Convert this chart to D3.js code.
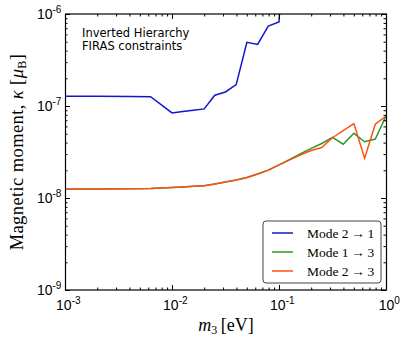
<!DOCTYPE html>
<meta charset="utf-8">
<style>
body { margin: 0; background: #fff; }
svg { font-family: "DejaVu Sans", sans-serif; }
.axis path.domain { display: none; }
.axis line { stroke: #000; stroke-width: 1; }
.tick text { font-size: 14px; fill: #000; }
.serif { font-family: "Liberation Serif", "DejaVu Serif", serif; }
</style>
<body>
<script src="https://d3js.org/d3.v7.min.js"></script>
<script>

// m3 grid [eV]
var m3 = [0.001, 0.002, 0.00398, 0.00631, 0.01, 0.0126, 0.0158, 0.02, 0.0251, 0.0316,
          0.0398, 0.0501, 0.0631, 0.0794, 0.1, 0.126, 0.158, 0.2, 0.251, 0.316,
          0.398, 0.501, 0.631, 0.794, 1.0];

// kappa limits [mu_B]
var mode21 = [1.28e-7, 1.28e-7, 1.27e-7, 1.26e-7, 8.4e-8, 8.7e-8, 9.0e-8, 9.3e-8, 1.31e-7, 1.42e-7,
              1.71e-7, 4.92e-7, 4.67e-7, 7.4e-7, 8.2e-7, 1e-4, null, null, null, null,
              null, null, null, null, null];
var mode13 = [1.25e-8, 1.25e-8, 1.26e-8, 1.27e-8, 1.30e-8, 1.32e-8, 1.34e-8, 1.36e-8, 1.42e-8, 1.49e-8,
              1.57e-8, 1.67e-8, 1.82e-8, 2.01e-8, 2.29e-8, 2.62e-8, 3.01e-8, 3.46e-8, 3.91e-8, 4.57e-8,
              3.84e-8, 5.05e-8, 4.09e-8, 4.37e-8, 7.78e-8];
var mode23 = [1.25e-8, 1.25e-8, 1.26e-8, 1.27e-8, 1.30e-8, 1.32e-8, 1.34e-8, 1.36e-8, 1.42e-8, 1.49e-8,
              1.57e-8, 1.67e-8, 1.82e-8, 2.01e-8, 2.29e-8, 2.60e-8, 2.92e-8, 3.28e-8, 3.54e-8, 4.52e-8,
              5.40e-8, 6.43e-8, 2.70e-8, 6.33e-8, 7.78e-8];

var xMajor = [1e-3, 1e-2, 1e-1, 1];
var yMajor = [1e-9, 1e-8, 1e-7, 1e-6];

var series = [
  {name: ["Mode 2", "1"], values: mode21, color: "#1414d2"},
  {name: ["Mode 1", "3"], values: mode13, color: "#2e962e"},
  {name: ["Mode 2", "3"], values: mode23, color: "#ff5014"}
];

var margin = {top: 14, right: 21, bottom: 51, left: 65};
var width = 407 - margin.left - margin.right;
var height = 341 - margin.top - margin.bottom;

var x = d3.scaleLog().domain([1e-3, 1]).range([0, width]);
var y = d3.scaleLog().domain([1e-9, 1e-6]).range([height, 0]);

var minors = function(majors) {
  var out = [];
  majors.slice(0, -1).forEach(function(m) {
    for (var k = 2; k < 10; k++) out.push(m * k);
  });
  return out;
};

var svg = d3.select("body").append("svg")
  .attr("width", 407)
  .attr("height", 341);

var g = svg.append("g")
  .attr("transform", "translate(" + margin.left + "," + margin.top + ")");

g.append("clipPath").attr("id", "clip")
  .append("rect").attr("width", width).attr("height", height);

// lines
var line = d3.line()
  .defined(function(d) { return d[1] != null; })
  .x(function(d) { return x(d[0]); })
  .y(function(d) { return y(d[1]); });

series.forEach(function(s) {
  g.append("path")
    .datum(m3.map(function(v, i) { return [v, s.values[i]]; }))
    .attr("clip-path", "url(#clip)")
    .attr("fill", "none")
    .attr("stroke", s.color)
    .attr("stroke-width", 1.5)
    .attr("d", line);
});

// ticks, inward on all sides
function supLabels(sel) {
  sel.selectAll(".tick text").each(function(d) {
    var t = d3.select(this);
    var e = Math.round(Math.log10(d));
    t.text("10");
    t.append("tspan").attr("dy", "-0.55em").attr("font-size", "10px").text(e);
  });
}

var gx = g.append("g").attr("class", "axis")
  .attr("transform", "translate(0," + height + ")")
  .call(d3.axisBottom(x).tickValues(xMajor).tickSize(-5).tickPadding(10));
gx.selectAll(".tick text").attr("dx", "0.2em");
supLabels(gx);
g.append("g").attr("class", "axis")
  .attr("transform", "translate(0," + height + ")")
  .call(d3.axisBottom(x).tickValues(minors(xMajor)).tickSize(-2.5).tickFormat(""));
g.append("g").attr("class", "axis")
  .call(d3.axisTop(x).tickValues(xMajor).tickSize(-5).tickFormat(""));
g.append("g").attr("class", "axis")
  .call(d3.axisTop(x).tickValues(minors(xMajor)).tickSize(-2.5).tickFormat(""));

var gy = g.append("g").attr("class", "axis")
  .call(d3.axisLeft(y).tickValues(yMajor).tickSize(-5).tickPadding(12));
gy.selectAll(".tick text").attr("dx", "0.6em").attr("text-anchor", "end");
supLabels(gy);
g.append("g").attr("class", "axis")
  .call(d3.axisLeft(y).tickValues(minors(yMajor)).tickSize(-2.5).tickFormat(""));
g.append("g").attr("class", "axis")
  .attr("transform", "translate(" + width + ",0)")
  .call(d3.axisRight(y).tickValues(yMajor).tickSize(-5).tickFormat(""));
g.append("g").attr("class", "axis")
  .attr("transform", "translate(" + width + ",0)")
  .call(d3.axisRight(y).tickValues(minors(yMajor)).tickSize(-2.5).tickFormat(""));

g.append("rect")
  .attr("x", 0.5).attr("y", 0)
  .attr("width", width).attr("height", height)
  .attr("fill", "none").attr("stroke", "#000").attr("stroke-width", 1.2);

// annotation
g.append("text").attr("x", 17).attr("y", 23).attr("font-size", "11.5px").text("Inverted Hierarchy");
g.append("text").attr("x", 17).attr("y", 36).attr("font-size", "11.5px").text("FIRAS constraints");

// axis labels
var xl = svg.append("text").attr("class", "serif")
  .attr("x", 226).attr("y", 331).attr("text-anchor", "middle").attr("font-size", "18px");
xl.append("tspan").attr("font-style", "italic").text("m");
xl.append("tspan").attr("dy", "3").attr("font-size", "12px").text("3");
xl.append("tspan").attr("dy", "-3").text("\u2009[eV]");

var yl = svg.append("text").attr("class", "serif")
  .attr("transform", "translate(23,152) rotate(-90)")
  .attr("text-anchor", "middle").attr("font-size", "18.5px")
  .attr("letter-spacing", "0.4px");
yl.append("tspan").text("Magnetic moment, ");
yl.append("tspan").attr("font-style", "italic").text("\u03ba");
yl.append("tspan").text(" [");
yl.append("tspan").attr("font-style", "italic").text("\u03bc");
yl.append("tspan").attr("dy", "3").attr("font-size", "12px").text("B");
yl.append("tspan").attr("dy", "-3").text("]");

// legend
var lg = g.append("g").attr("transform", "translate(" + (width - 123) + "," + (height - 69) + ")");
lg.append("rect")
  .attr("width", 118).attr("height", 62).attr("rx", 3)
  .attr("fill", "#fff").attr("stroke", "#444").attr("stroke-width", 1);
series.forEach(function(s, i) {
  var yy = 12 + i * 19;
  lg.append("line")
    .attr("x1", 9).attr("x2", 30).attr("y1", yy).attr("y2", yy)
    .attr("stroke", s.color).attr("stroke-width", 1.5);
  lg.append("text").attr("class", "serif")
    .attr("x", 44).attr("y", yy + 4.5).attr("font-size", "13.5px")
    .text(s.name[0] + "\u2009\u2192\u2009" + s.name[1]);
});

</script>
</body>
